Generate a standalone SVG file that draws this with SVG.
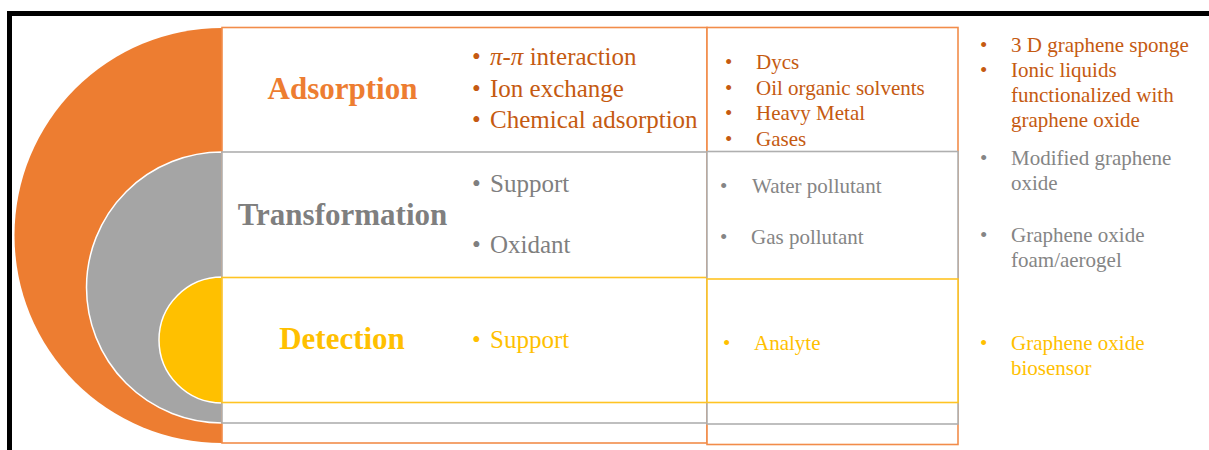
<svg xmlns="http://www.w3.org/2000/svg" width="1209" height="450" viewBox="0 0 1209 450">
  <style>
    .title { font-weight: bold; font-size: 31px; text-anchor: middle; }
    .b1 { font-size: 25px; }
    .b2 { font-size: 21px; }
    .org { fill: #ED7D31; }
    .orgd { fill: #C55A11; }
    .gry { fill: #7F7F7F; }
    .gryl { fill: #858585; }
    .yel { fill: #FFC000; }
    .box { fill: #FFFFFF; stroke-width: 1.6; }
    .box-o { stroke: #F28C4A; }
    .box-g { stroke: #AFAFAF; }
    .box-y { stroke: #FFC423; }
  </style>

  <!-- outer frame: top and left edges only -->
  <g id="frame" fill="none" stroke="#000000" stroke-width="5">
    <line x1="7" y1="13.5" x2="1209" y2="13.5"/>
    <line x1="9.5" y1="11" x2="9.5" y2="450"/>
  </g>

  <!-- nested half discs -->
  <g id="ring-adsorption">
    <path d="M222,28 A207.5,207.5 0 0 0 222,443 Z" fill="#ED7D31"/>
  </g>
  <g id="ring-transformation">
    <path d="M222,152 A135.5,135.5 0 0 0 222,423 Z" fill="#A5A5A5" stroke="#FFFFFF" stroke-width="1.5"/>
  </g>
  <g id="ring-detection">
    <path d="M222,277 A63,63 0 0 0 222,403 Z" fill="#FFC000" stroke="#FFFFFF" stroke-width="1.5"/>
  </g>

  <!-- mechanism column -->
  <g id="col-mechanism">
    <rect class="box box-o" x="222" y="27.5" width="485" height="415.5"/>
    <rect class="box box-g" x="222" y="152" width="485" height="271"/>
    <rect class="box box-y" x="222" y="277.5" width="485" height="125"/>
  </g>

  <!-- pollutant column -->
  <g id="col-pollutant">
    <rect class="box box-o" x="707" y="27.5" width="251" height="417"/>
    <rect class="box box-g" x="707" y="151.5" width="251" height="272.5"/>
    <rect class="box box-y" x="707" y="279" width="251" height="123.5"/>
  </g>

  <!-- connectors (none drawn) -->
  <g id="connectors"/>

  <g font-family="Liberation Serif, DejaVu Serif, serif">
  <!-- Adsorption row -->
  <g id="node-adsorption">
    <text class="title org" x="342.5" y="99">Adsorption</text>
    <text class="b1 orgd" x="472" y="65">•</text>
    <text class="b1 orgd" x="490" y="65"><tspan font-style="italic">π</tspan>-<tspan font-style="italic">π</tspan> interaction</text>
    <text class="b1 orgd" x="472" y="97">•</text>
    <text class="b1 orgd" x="490" y="97">Ion exchange</text>
    <text class="b1 orgd" x="472" y="128">•</text>
    <text class="b1 orgd" x="490" y="128">Chemical adsorption</text>

    <text class="b2 orgd" x="725" y="69">•</text>
    <text class="b2 orgd" x="756" y="69">Dycs</text>
    <text class="b2 orgd" x="725" y="95">•</text>
    <text class="b2 orgd" x="756" y="95">Oil organic solvents</text>
    <text class="b2 orgd" x="725" y="120">•</text>
    <text class="b2 orgd" x="756" y="120">Heavy Metal</text>
    <text class="b2 orgd" x="725" y="146">•</text>
    <text class="b2 orgd" x="756" y="146">Gases</text>

    <text class="b2 orgd" x="980" y="52">•</text>
    <text class="b2 orgd" x="1011" y="52">3 D graphene sponge</text>
    <text class="b2 orgd" x="980" y="77">•</text>
    <text class="b2 orgd" x="1011" y="77">Ionic liquids</text>
    <text class="b2 orgd" x="1011" y="102">functionalized with</text>
    <text class="b2 orgd" x="1011" y="127">graphene oxide</text>
  </g>

  <!-- Transformation row -->
  <g id="node-transformation">
    <text class="title gry" x="342.5" y="225">Transformation</text>
    <text class="b1 gry" x="472" y="192">•</text>
    <text class="b1 gry" x="490" y="192">Support</text>
    <text class="b1 gry" x="472" y="253">•</text>
    <text class="b1 gry" x="490" y="253">Oxidant</text>

    <text class="b2 gryl" x="720" y="193">•</text>
    <text class="b2 gryl" x="752" y="193">Water pollutant</text>
    <text class="b2 gryl" x="720" y="244">•</text>
    <text class="b2 gryl" x="751" y="244">Gas pollutant</text>

    <text class="b2 gryl" x="980" y="165">•</text>
    <text class="b2 gryl" x="1011" y="165">Modified graphene</text>
    <text class="b2 gryl" x="1011" y="190">oxide</text>
    <text class="b2 gryl" x="980" y="242">•</text>
    <text class="b2 gryl" x="1011" y="242">Graphene oxide</text>
    <text class="b2 gryl" x="1011" y="267">foam/aerogel</text>
  </g>

  <!-- Detection row -->
  <g id="node-detection">
    <text class="title yel" x="342" y="349">Detection</text>
    <text class="b1 yel" x="472" y="348">•</text>
    <text class="b1 yel" x="490" y="348">Support</text>

    <text class="b2 yel" x="723" y="350">•</text>
    <text class="b2 yel" x="754" y="350">Analyte</text>

    <text class="b2 yel" x="980" y="350">•</text>
    <text class="b2 yel" x="1011" y="350">Graphene oxide</text>
    <text class="b2 yel" x="1011" y="375">biosensor</text>
  </g>
  </g>
</svg>
